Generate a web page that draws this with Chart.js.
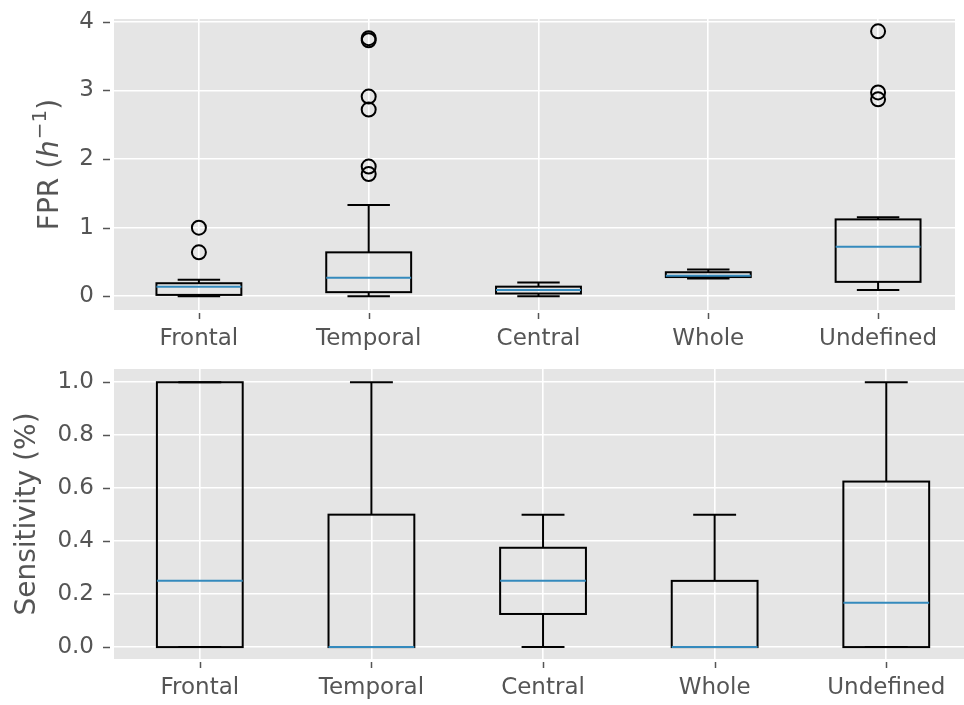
<!DOCTYPE html>
<html><head><meta charset="utf-8">
<script src="https://cdn.jsdelivr.net/npm/chart.js@4/dist/chart.umd.min.js"></script>
<style>
html,body{margin:0;padding:0;background:#fff;overflow:hidden;}
canvas{display:block;}
</style></head><body>
<canvas id="c1" width="964" height="352"></canvas>
<canvas id="c2" width="964" height="353"></canvas>
<script>
// ---------- data ----------
const categories = ['Frontal', 'Temporal', 'Central', 'Whole', 'Undefined'];

// FPR (h^-1)
const fprWhiskerLow  = [0.00, 0.00, 0.00, 0.26, 0.09];
const fprQ1          = [0.02, 0.06, 0.04, 0.28, 0.21];
const fprMedian      = [0.14, 0.27, 0.09, 0.30, 0.72];
const fprQ3          = [0.19, 0.64, 0.14, 0.35, 1.12];
const fprWhiskerHigh = [0.24, 1.33, 0.20, 0.39, 1.15];
const fprOutliers    = [[0.64, 1.00], [1.78, 1.89, 2.72, 2.91, 3.73, 3.76], [], [], [2.87, 2.97, 3.86]];
const fprTicks       = [0, 1, 2, 3, 4];

// Sensitivity (%)
const sensWhiskerLow  = [0.00, 0.00, 0.00, 0.00, 0.00];
const sensQ1          = [0.00, 0.00, 0.125, 0.00, 0.00];
const sensMedian      = [0.25, 0.00, 0.25, 0.00, 0.167];
const sensQ3          = [1.00, 0.50, 0.375, 0.25, 0.625];
const sensWhiskerHigh = [1.00, 1.00, 0.50, 0.50, 1.00];
const sensOutliers    = [[], [], [], [], []];
const sensTicks       = [0.0, 0.2, 0.4, 0.6, 0.8, 1.0];

// axis label pieces for FPR (h^-1): [text, style]
const fprTitleParts = [['FPR (', 'normal'], ['h', 'italic'], ['\u22121', 'sup'], [')', 'normal']];

// ---------- drawing ----------
const FONT = 'DejaVu Sans';
const TXT = '#555555';

const boxPlugin = {
  id: 'mplbox',
  beforeDraw(chart) {
    const {ctx, chartArea: a} = chart;
    ctx.save();
    ctx.fillStyle = '#E5E5E5';
    ctx.fillRect(a.left, a.top, a.right - a.left, a.bottom - a.top);
    ctx.restore();
  },
  afterDatasetsDraw(chart, args, opts) {
    const st = opts.stats;
    if (!st) return;
    const xs = chart.scales.x, ys = chart.scales.y, ctx = chart.ctx;
    const line = (x1, y1, x2, y2) => { ctx.beginPath(); ctx.moveTo(x1, y1); ctx.lineTo(x2, y2); ctx.stroke(); };
    ctx.save();
    ctx.lineWidth = 2;
    categories.forEach((c, i) => {
      const p = i + 1;
      const xc = xs.getPixelForValue(p);
      const xl = xs.getPixelForValue(p - 0.25), xr = xs.getPixelForValue(p + 0.25);
      const cl = xs.getPixelForValue(p - 0.125), cr = xs.getPixelForValue(p + 0.125);
      const wl = ys.getPixelForValue(st.wl[i]), q1 = ys.getPixelForValue(st.q1[i]);
      const md = ys.getPixelForValue(st.med[i]), q3 = ys.getPixelForValue(st.q3[i]);
      const wh = ys.getPixelForValue(st.wh[i]);
      ctx.strokeStyle = '#000000';
      ctx.strokeRect(xl, q3, xr - xl, q1 - q3);
      line(xc, q1, xc, wl);
      line(xc, q3, xc, wh);
      line(cl, wl, cr, wl);
      line(cl, wh, cr, wh);
      ctx.strokeStyle = '#348ABD';
      line(xl, md, xr, md);
    });
    ctx.restore();
  },
  afterDraw(chart, args, opts) {
    const {ctx, chartArea: a} = chart;
    const xs = chart.scales.x, ys = chart.scales.y;
    ctx.save();
    ctx.strokeStyle = TXT;
    ctx.lineWidth = 1.5;
    ys.ticks.forEach(t => {
      const py = Math.round(ys.getPixelForValue(t.value)) + 0.5;
      ctx.beginPath(); ctx.moveTo(a.left - 11, py); ctx.lineTo(a.left - 4, py); ctx.stroke();
    });
    xs.ticks.forEach(t => {
      const px = Math.round(xs.getPixelForValue(t.value)) + 0.5;
      ctx.beginPath(); ctx.moveTo(px, a.bottom + 3); ctx.lineTo(px, a.bottom + 9); ctx.stroke();
    });
    ctx.restore();
    // rich y-axis title (mathtext-like)
    const parts = opts.titleParts;
    if (parts) {
      const size = 28, supSize = 20;
      const fontOf = st => st === 'italic' ? `italic ${size}px "${FONT}"` : st === 'sup' ? `${supSize}px "${FONT}"` : `${size}px "${FONT}"`;
      ctx.save();
      let total = 0;
      const widths = parts.map(([t, st]) => { ctx.font = fontOf(st); const w = ctx.measureText(t).width + (st === 'italic' ? 1 : 0); total += w; return w; });
      const cy = (a.top + a.bottom) / 2;
      ctx.translate(opts.titleBaselineX, cy);
      ctx.rotate(-Math.PI / 2);
      ctx.fillStyle = TXT;
      ctx.textBaseline = 'alphabetic';
      ctx.textAlign = 'left';
      let xpos = -total / 2;
      parts.forEach(([t, st], i) => {
        ctx.font = fontOf(st);
        ctx.fillText(t, xpos, st === 'sup' ? -12 : 0);
        xpos += widths[i];
      });
      ctx.restore();
    }
  }
};

function makeChart(id, cfg) {
  const outlierData = [];
  cfg.outliers.forEach((arr, i) => arr.forEach(v => outlierData.push({x: i + 1, y: v})));
  return new Chart(document.getElementById(id), {
    type: 'scatter',
    data: {
      datasets: [{
        data: outlierData,
        pointStyle: 'circle',
        pointRadius: 7,
        pointHoverRadius: 7,
        borderWidth: 2,
        borderColor: '#000000',
        backgroundColor: 'rgba(0,0,0,0)'
      }]
    },
    plugins: [boxPlugin],
    options: {
      responsive: false,
      animation: false,
      devicePixelRatio: 1,
      layout: {padding: {top: cfg.padTop, left: 0, right: 0, bottom: 0}},
      plugins: {
        legend: {display: false},
        tooltip: {enabled: false},
        mplbox: {stats: cfg.stats, titleParts: cfg.titleParts, titleBaselineX: cfg.titleBaselineX}
      },
      scales: {
        x: {
          type: 'linear',
          min: 0.5,
          max: 5.453,
          afterBuildTicks: s => { s.ticks = categories.map((c, i) => ({value: i + 1})); },
          afterFit: s => { s.height = cfg.xHeight; s.paddingLeft = 0; s.paddingRight = 0; s.paddingTop = 0; s.paddingBottom = 0; },
          ticks: {
            autoSkip: false, maxRotation: 0, minRotation: 0,
            padding: cfg.xPad,
            color: TXT,
            font: {family: FONT, size: 23},
            callback: v => categories[Math.round(v) - 1]
          },
          grid: {color: '#FFFFFF', lineWidth: 1.6, drawTicks: false},
          border: {display: false}
        },
        y: {
          type: 'linear',
          min: cfg.yMin,
          max: cfg.yMax,
          afterBuildTicks: s => { s.ticks = cfg.ticks.map(v => ({value: v})); },
          afterFit: s => { s.width = 114; s.paddingLeft = 0; s.paddingRight = 0; s.paddingTop = 0; s.paddingBottom = 0; },
          ticks: {
            padding: 20,
            color: TXT,
            font: {family: FONT, size: 23},
            callback: cfg.fmt
          },
          grid: {color: '#FFFFFF', lineWidth: 1.6, drawTicks: false},
          border: {display: false},
          title: {
            display: !!cfg.title,
            text: cfg.title || '',
            color: TXT,
            font: {family: FONT, size: 28},
            padding: {top: cfg.titlePad || 0, bottom: 0}
          }
        }
      }
    }
  });
}

makeChart('c1', {
  stats: {wl: fprWhiskerLow, q1: fprQ1, med: fprMedian, q3: fprQ3, wh: fprWhiskerHigh},
  outliers: fprOutliers,
  ticks: fprTicks,
  fmt: v => String(v),
  yMin: -0.2, yMax: 4.04,
  padTop: 19, xHeight: 42, xPad: 15,
  titleParts: fprTitleParts, titleBaselineX: 58
});

makeChart('c2', {
  stats: {wl: sensWhiskerLow, q1: sensQ1, med: sensMedian, q3: sensQ3, wh: sensWhiskerHigh},
  outliers: sensOutliers,
  ticks: sensTicks,
  fmt: v => Number(v).toFixed(1),
  yMin: -0.045, yMax: 1.05,
  padTop: 17, xHeight: 46, xPad: 15,
  title: 'Sensitivity (%)', titlePad: 11
});
</script>
</body></html>
